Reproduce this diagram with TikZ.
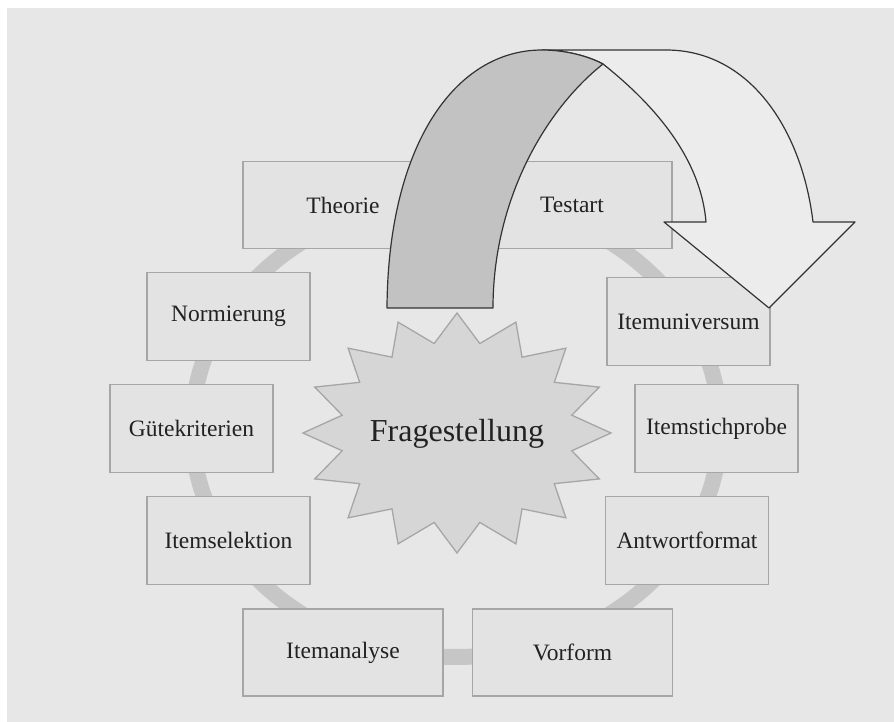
\documentclass[tikz,border=0pt]{standalone}
\usepackage{fontspec}
\setmainfont{Liberation Serif}

\definecolor{hintergrund}{HTML}{E7E7E7}
\definecolor{ringgrau}{HTML}{C6C6C6}
\definecolor{kastenfill}{HTML}{E3E3E3}
\definecolor{kastenrand}{HTML}{A6A6A6}
\definecolor{sternfill}{HTML}{D6D6D6}
\definecolor{pfeilgrau}{HTML}{C2C2C2}
\definecolor{pfeilweiss}{HTML}{ECECEC}
\definecolor{pfeilrand}{HTML}{333333}
\definecolor{schrift}{HTML}{222222}

\tikzset{
	kasten/.style={draw=kastenrand, fill=kastenfill, line width=1.3pt,
		minimum width=163pt, minimum height=88pt, inner sep=0pt,
		text=schrift, font=\fontsize{23.5}{28}\selectfont},
	breit/.style={kasten, minimum width=200pt, minimum height=87pt},
	pfeil/.style={draw=pfeilrand, line width=1.2pt, line join=round},
}

\begin{document}
\begin{tikzpicture}[x=1pt, y=-1pt]
		
		\useasboundingbox (0,0) rectangle (894,722);
		\fill[hintergrund] (7,8) rectangle (894,722);
		
		% ring behind the boxes
		\draw[ringgrau, line width=16pt] (456,428) ellipse [x radius=264, y radius=229];
		
		\node[breit] (theorie) at (343,205) {Theorie};
		\node[breit] (testart) at (572,205) {Testart};
		\node[kasten] (normierung) at (228.5,316.5) {Normierung};
		\node[kasten] (guete) at (191.5,428.5) {Gütekriterien};
		\node[kasten] (selektion) at (228.5,540.5) {Itemselektion};
		\node[breit] (analyse) at (343,652.5) {Itemanalyse};
		\node[breit] (vorform) at (572.5,652.5) {Vorform};
		\node[kasten] (antwort) at (687,540.5) {Antwortformat};
		\node[kasten] (stichprobe) at (716.5,428.5) {Itemstichprobe};
		\node[kasten] (universum) at (688.5,321.5) {Itemuniversum};
		
		% star
		\filldraw[draw=kastenrand, fill=sternfill, line width=1.3pt, line join=miter]
		(611,433) \foreach \i in {1,...,31}
		{ -- ({457+154*cos(\i*11.25)*(1-0.24*mod(\i,2))}, {433+120*sin(\i*11.25)*(1-0.24*mod(\i,2))}) } -- cycle;
		\node[text=schrift, font=\fontsize{32}{38}\selectfont] (frage) at (457,434) {Fragestellung};
		
		% arrow, front part
		\filldraw[pfeil, fill=pfeilweiss] (542,50) -- (666,50)
		.. controls (750,50) and (802,130) .. (813,222) -- (855,222) -- (769,308)
		-- (664,222) -- (706,222) .. controls (700,150) and (642,95) .. (603,64)
		.. controls (588,56) and (565,50) .. (542,50) -- cycle;
		
		% arrow, back part
		\filldraw[pfeil, fill=pfeilgrau] (387,308) .. controls (388,145) and (455,50) .. (542,50)
		.. controls (565,50) and (588,56) .. (603,64)
		.. controls (545,110) and (493,200) .. (493,308) -- cycle;
		
\end{tikzpicture}
\end{document}
